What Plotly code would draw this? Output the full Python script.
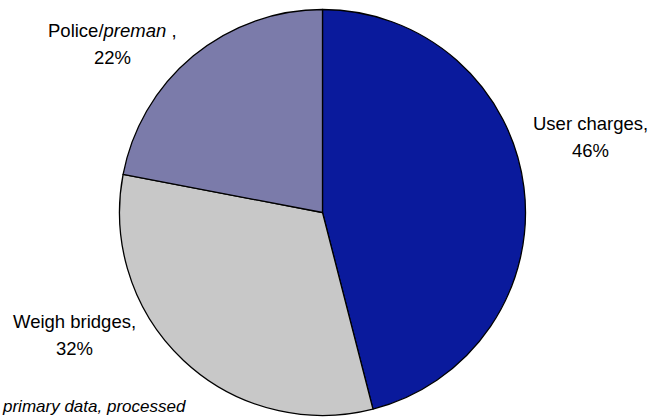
import plotly.graph_objects as go

categories = ["User charges", "Weigh bridges", "Police/<i>preman</i>"]
values = [46, 32, 22]
colors = ["#0A1A9C", "#C8C8C8", "#7B7BAA"]
label_names = ["User charges,", "Weigh bridges,", "Police/<i>preman</i> ,"]
label_pcts = ["46%", "32%", "22%"]
label_pos = [(590, 123.5), (74.5, 321.5), (112.5, 30.5)]  # pixel centre of first line
source_text = "<i>primary data, processed</i>"

W, H = 650, 418
cx, cy, r = 322.5, 212.5, 203
line_gap = 27

fig = go.Figure(go.Pie(
    labels=categories, values=values, sort=False, direction="clockwise", rotation=0,
    marker=dict(colors=colors, line=dict(color="black", width=1.3)),
    textinfo="none", hoverinfo="label+percent", showlegend=False,
    domain=dict(x=[(cx - r) / W, (cx + r) / W], y=[(H - cy - r) / H, (H - cy + r) / H]),
))

font = dict(family="Liberation Sans, Arial, sans-serif", size=18.5, color="black")
for name, pct, (px, py) in zip(label_names, label_pcts, label_pos):
    for i, txt in enumerate([name, pct]):
        fig.add_annotation(x=px / W, y=1 - (py + i * line_gap) / H, xref="paper", yref="paper",
                           text=txt, showarrow=False, font=font, align="center",
                           xanchor="center", yanchor="middle")

fig.add_annotation(x=0, y=0, xref="paper", yref="paper",
                   text=source_text, showarrow=False,
                   font=dict(family="Liberation Sans, Arial, sans-serif", size=17, color="black"),
                   xanchor="left", yanchor="bottom")

fig.update_layout(width=W, height=H, margin=dict(l=0, r=0, t=0, b=0),
                  paper_bgcolor="white", plot_bgcolor="white")
fig.write_html("out.html")
